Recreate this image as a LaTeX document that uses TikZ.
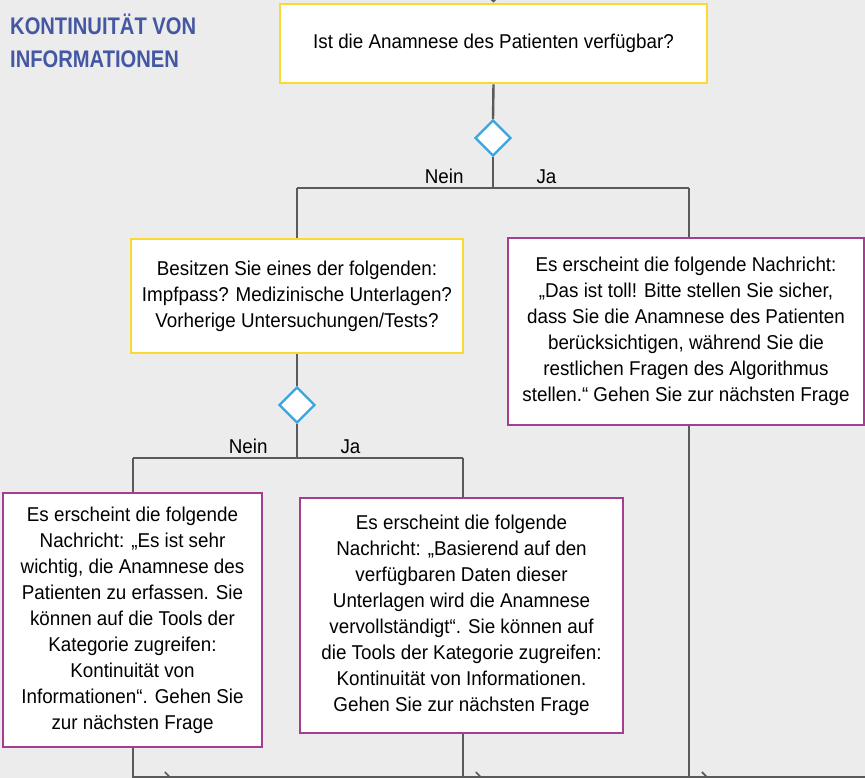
\documentclass[tikz,border=0pt]{standalone}
\usepackage{fontspec}
\setmainfont{Liberation Sans}[FakeStretch=0.94]
\newfontfamily\titlefont{Liberation Sans}[FakeStretch=0.84]
\usetikzlibrary{positioning, arrows.meta, shapes.geometric}

\definecolor{bgray}{RGB}{236,236,236}
\definecolor{lgray}{RGB}{90,90,90}
\definecolor{qyellow}{RGB}{250,218,50}
\definecolor{mpurple}{RGB}{166,61,145}
\definecolor{dblue}{RGB}{58,166,224}
\definecolor{tblue}{RGB}{68,87,163}

\begin{document}
\begin{tikzpicture}[
  x=1pt, y=-1pt,
  font=\fontsize{20}{26}\selectfont,
  box/.style={draw, fill=white, line width=2.6pt, align=center, inner sep=4pt},
  question/.style={box, draw=qyellow},
  message/.style={box, draw=mpurple},
  decision/.style={diamond, draw=dblue, fill=white, line width=2.4pt,
                   minimum width=36pt, minimum height=36pt, inner sep=0pt},
  link/.style={draw=lgray, line width=2.4pt},
  flow/.style={link, -{Straight Barb[length=5pt, width=10pt, line width=1.6pt]}},
]
  \useasboundingbox (0,0) rectangle (865,778);
  \fill[bgray] (0,0) rectangle (865,778);

  % --- title ---
  \node[anchor=north west, align=left, text=tblue, inner sep=0pt,
        font=\titlefont\bfseries\fontsize{24}{33}\selectfont] (title) at (10,14)
    {KONTINUITÄT VON\\INFORMATIONEN};

  % --- first question ---
  \coordinate (entry) at (493,-20);
  \node[question, minimum width=427pt, minimum height=79pt] (q1) at (493.5,43.5)
    {\strut Ist die Anamnese des Patienten verfügbar?};
  \draw[flow] (entry) -- (q1.north);
  \node[decision] (d1) at (493,138) {};
  \draw[link] (q1.south) -- (d1.north);

  \coordinate (d1split) at (493,188);
  \coordinate (d1no) at (297,188);
  \coordinate (d1yes) at (689,188);
  \draw[link] (d1.south) -- (d1split);
  \draw[link] (d1no) -- (d1yes);
  \node[left=26pt of d1split, anchor=south east, yshift=1pt] (no1) {Nein};
  \node[right=40pt of d1split, anchor=south west, yshift=1pt] (yes1) {Ja};

  % --- second question (Nein) ---
  \node[question, minimum width=332pt, minimum height=114pt] (q2) at (297,296)
    {Besitzen Sie eines der folgenden:\\
     Impfpass? Medizinische Unterlagen?\\
     Vorherige Untersuchungen/Tests?};
  \draw[link] (d1no) -- (q2.north);

  % --- message (Ja) ---
  \node[message, minimum width=356pt, minimum height=187pt] (m1) at (686,331.5)
    {Es erscheint die folgende Nachricht:\\
     „Das ist toll! Bitte stellen Sie sicher,\\
     dass Sie die Anamnese des Patienten\\
     berücksichtigen, während Sie die\\
     restlichen Fragen des Algorithmus\\
     stellen.“ Gehen Sie zur nächsten Frage};
  \draw[link] (d1yes) -- (d1yes |- m1.north);

  \node[decision] (d2) at (297,405) {};
  \draw[link] (q2.south) -- (d2.north);

  \coordinate (d2split) at (297,458);
  \coordinate (d2no) at (133,458);
  \coordinate (d2yes) at (463,458);
  \draw[link] (d2.south) -- (d2split);
  \draw[link] (d2no) -- (d2yes);
  \node[left=26pt of d2split, anchor=south east, yshift=1pt] (no2) {Nein};
  \node[right=40pt of d2split, anchor=south west, yshift=1pt] (yes2) {Ja};

  % --- messages of the second question ---
  \node[message, minimum width=259pt, minimum height=254pt] (m2) at (132.5,620)
    {Es erscheint die folgende\\
     Nachricht: „Es ist sehr\\
     wichtig, die Anamnese des\\
     Patienten zu erfassen. Sie\\
     können auf die Tools der\\
     Kategorie zugreifen:\\
     Kontinuität von\\
     Informationen“. Gehen Sie\\
     zur nächsten Frage};
  \draw[link] (d2no) -- (d2no |- m2.north);

  \node[message, minimum width=323pt, minimum height=235pt] (m3) at (461.5,615.5)
    {Es erscheint die folgende\\
     Nachricht: „Basierend auf den\\
     verfügbaren Daten dieser\\
     Unterlagen wird die Anamnese\\
     vervollständigt“. Sie können auf\\
     die Tools der Kategorie zugreifen:\\
     Kontinuität von Informationen.\\
     Gehen Sie zur nächsten Frage};
  \draw[link] (d2yes) -- (d2yes |- m3.north);

  % --- joining line at the bottom ---
  \coordinate (j1) at (171,777);
  \coordinate (j2) at (482,777);
  \coordinate (j3) at (708,777);
  \coordinate (exit) at (870,777);
  \draw[link] (d2no |- m2.south) -- (d2no |- j1) -- (exit);
  \draw[flow] (d2no |- j1) -- (j1);
  \draw[flow] (d2yes |- m3.south) -- (d2yes |- j2) -- (j2);
  \draw[flow] (d1yes |- m1.south) -- (d1yes |- j3) -- (j3);
\end{tikzpicture}
\end{document}
